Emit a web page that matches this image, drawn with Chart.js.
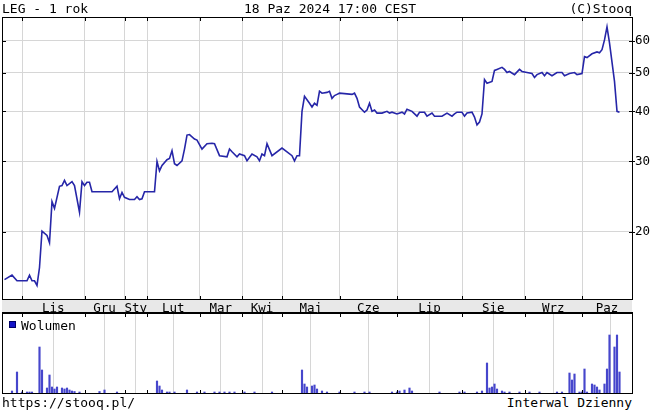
<!DOCTYPE html>
<html lang="pl">
<head>
<meta charset="utf-8">
<title>LEG - 1 rok</title>
<script src="https://cdn.jsdelivr.net/npm/chart.js@4.4.1/dist/chart.umd.min.js"></script>
<style>
  html, body { margin: 0; padding: 0; background: #fff; }
  body { position: relative; width: 655px; height: 416px; overflow: hidden;
         font-family: 'DejaVu Sans Mono', monospace; font-size: 13px; color: #000; }
  canvas { position: absolute; left: 0; }
  #priceChart { top: 0; }
  #volumeChart { top: 313px; }
  .lbl { position: absolute; line-height: 15px; white-space: pre; }
  #legendBox { position: absolute; left: 9px; top: 321px; width: 5px; height: 5px;
               background: #1414c8; border: 1px solid #000066; }
</style>
</head>
<body>
<canvas id="priceChart" width="655" height="313"></canvas>
<canvas id="volumeChart" width="655" height="81"></canvas>
<div class="lbl" style="left:2px; top:1px">LEG - 1 rok</div>
<div class="lbl" style="left:0; width:660px; text-align:center; top:1px">18 Paz 2024 17:00 CEST</div>
<div class="lbl" style="right:23px; top:1px">(C)Stooq</div>
<div id="legendBox"></div>
<div class="lbl" style="left:21px; top:318px">Wolumen</div>
<div class="lbl" style="left:2px; top:395px">https://stooq.pl/</div>
<div class="lbl" style="right:23px; top:395px">Interwal Dzienny</div>
<script>
// session index (0 = start of the 1-year window), month names and where each month starts
const monthNames = ['Lis', 'Gru', 'Sty', 'Lut', 'Mar', 'Kwi', 'Maj', 'Cze', 'Lip', 'Sie', 'Wrz', 'Paz'];
const monthStart = [8, 33, 49, 58, 79, 96, 112, 135, 158, 184, 209, 232];
const lastDay = 252;
const priceTicks = [20, 30, 40, 50, 60];

// closing prices (PLN)
const priceDay = [
    1, 4, 6, 8, 10, 11, 12, 13, 14, 15,
    16, 18, 19, 20, 21, 23, 24, 25, 26, 28,
    29, 31, 32, 33, 34, 35, 36, 44, 46, 47,
    48, 49, 51, 53, 54, 55, 56, 57, 61, 62,
    63, 64, 66, 67, 68, 69, 70, 72, 73, 74,
    75, 77, 78, 80, 82, 84, 85, 87, 90, 91,
    92, 94, 95, 97, 98, 100, 102, 103, 104, 105,
    106, 108, 112, 114, 116, 117, 118, 119, 120, 121,
    123, 124, 125, 126, 127, 128, 130, 131, 132, 133,
    134, 135, 140, 141, 142, 143, 145, 146, 147, 148,
    149, 150, 152, 154, 155, 156, 158, 160, 161, 162,
    164, 166, 167, 169, 170, 172, 173, 175, 176, 178,
    180, 181, 182, 184, 185, 186, 188, 189, 190, 191,
    192, 193, 194, 196, 197, 198, 200, 201, 202, 203,
    205, 207, 208, 210, 212, 213, 214, 216, 217, 218,
    220, 222, 224, 225, 227, 229, 230, 232, 233, 234,
    236, 238, 239, 240, 241, 242, 243, 245, 246, 247
];
const priceClose = [
    15.2, 15.6, 15.1, 15.1, 15.1, 15.6, 15.1, 15.1, 14.7, 16.3,
    20.1, 19.6, 18.8, 23.8, 22.9, 26.0, 26.1, 26.9, 26.1, 26.7,
    26.1, 22.4, 26.7, 26.1, 26.6, 26.6, 25.2, 25.2, 26.0, 24.2,
    25.1, 24.4, 24.1, 24.1, 24.5, 24.1, 24.2, 25.2, 25.2, 30.0,
    28.4, 29.3, 30.3, 30.5, 31.9, 29.6, 29.3, 30.1, 32.2, 34.9,
    35.0, 34.1, 33.9, 32.2, 33.2, 33.3, 33.2, 31.0, 30.8, 32.2,
    31.7, 30.8, 31.3, 31.0, 30.1, 31.3, 30.8, 30.1, 31.3, 31.0,
    33.2, 31.0, 32.4, 31.7, 31.0, 30.1, 31.0, 31.0, 40.0, 43.6,
    41.9, 41.0, 41.9, 41.4, 44.9, 44.4, 44.6, 44.9, 43.1, 43.8,
    44.1, 44.4, 44.1, 44.4, 43.1, 41.0, 39.8, 40.3, 41.9, 40.0,
    40.3, 39.6, 39.6, 40.0, 39.6, 39.8, 39.4, 39.8, 39.4, 40.5,
    40.0, 38.9, 39.8, 39.8, 38.9, 39.6, 38.9, 38.9, 38.9, 39.6,
    38.9, 39.4, 39.8, 39.8, 38.9, 39.6, 39.8, 38.7, 37.0, 37.6,
    39.4, 48.0, 47.0, 47.5, 50.6, 50.9, 51.5, 50.9, 50.0, 50.3,
    49.4, 50.9, 50.3, 50.0, 49.7, 48.6, 49.4, 50.0, 49.1, 50.0,
    49.1, 50.0, 50.0, 49.1, 49.7, 50.0, 49.4, 49.7, 54.8, 54.5,
    55.7, 56.3, 56.0, 57.0, 60.3, 65.0, 59.3, 47.5, 40.0, 39.8
];

// volume (thousand shares)
const volDay = [
    4, 6, 8, 10, 11, 12, 15, 16, 18, 19,
    20, 21, 22, 24, 25, 26, 27, 28, 29, 31,
    39, 41, 46, 62, 63, 64, 66, 67, 69, 74,
    78, 81, 85, 87, 89, 91, 93, 97, 101, 108,
    120, 121, 122, 124, 125, 126, 128, 130, 135, 141,
    145, 147, 156, 158, 159, 161, 163, 164, 175, 183,
    185, 190, 192, 194, 195, 196, 197, 198, 200, 201,
    203, 207, 211, 215, 222, 224, 227, 228, 229, 231,
    232, 233, 234, 236, 237, 238, 239, 241, 242, 243,
    245, 246, 247
];
const volume = [
    2, 21, 1, 1, 1, 1, 46, 23, 5, 18,
    6, 4, 6, 5, 4, 5, 3, 2, 1.5, 1,
    1.5, 3, 1, 12, 7, 3, 1, 1, 1, 3,
    1, 1, 1, 1, 1, 1, 1, 1, 1, 1,
    23, 9, 6, 7, 8, 4, 2, 1, 1, 1,
    1, 1, 1, 1, 2, 3, 5, 2, 1, 1,
    1, 1, 2, 30, 5, 6, 9, 4, 2, 1,
    1, 1, 1, 1, 1, 1, 20, 13, 19, 1,
    1, 24, 1, 9, 8, 6, 3, 9, 24, 58,
    46, 58, 21
];

const monthMid = monthStart.map((s, i) => (s + (i + 1 < monthStart.length ? monthStart[i + 1] : lastDay)) / 2);

Chart.defaults.font.family = "'DejaVu Sans Mono', monospace";
Chart.defaults.font.size = 12.5;
Chart.defaults.color = '#000';

const gridColor = '#d6d6d6';

// black frame, inward tick marks and the grey month band
const framePlugin = {
    id: 'frame',
    beforeDraw(chart, args, opts) {
        const { ctx, chartArea: a } = chart;
        if (opts.band) {
            ctx.save();
            ctx.fillStyle = '#e8e8e8';
            ctx.fillRect(a.left, a.bottom, a.right - a.left, chart.height - a.bottom);
            ctx.restore();
        }
    },
    afterDraw(chart, args, opts) {
        const { ctx, chartArea: a, scales } = chart;
        ctx.save();
        ctx.strokeStyle = '#000';
        ctx.lineWidth = 1;
        ctx.beginPath();
        monthStart.forEach(m => {
            const x = Math.round(scales.x.getPixelForValue(m)) + 0.5;
            ctx.moveTo(x, a.top); ctx.lineTo(x, a.top + 4);
            ctx.moveTo(x, a.bottom - 3); ctx.lineTo(x, a.bottom);
        });
        if (opts.yTicks) {
            opts.yTicks.forEach(t => {
                const y = Math.round(scales.y.getPixelForValue(t)) + 0.5;
                ctx.moveTo(a.left, y); ctx.lineTo(a.left + 4, y);
                ctx.moveTo(a.right - 3, y); ctx.lineTo(a.right + 3, y);
            });
        }
        ctx.stroke();
        ctx.strokeRect(a.left + 0.5, a.top + 0.5, a.right - a.left, a.bottom - a.top);
        if (opts.band) {
            ctx.beginPath();
            ctx.moveTo(a.left, chart.height - 0.5);
            ctx.lineTo(a.right + 1, chart.height - 0.5);
            ctx.stroke();
        }
        ctx.restore();
    }
};

const monthGridAxis = {
    type: 'linear',
    min: 0,
    max: lastDay,
    afterBuildTicks: axis => { axis.ticks = monthStart.map(v => ({ value: v })); },
    afterFit: scale => { scale.height = 0; },
    ticks: { display: false },
    grid: { color: gridColor, drawTicks: false },
    border: { display: false }
};

new Chart(document.getElementById('priceChart'), {
    type: 'line',
    data: {
        datasets: [{
            label: 'LEG',
            data: priceDay.map((d, i) => ({ x: d, y: priceClose[i] })),
            borderColor: '#2626a8',
            borderWidth: 1.6,
            pointRadius: 0,
            tension: 0,
            fill: false
        }]
    },
    options: {
        responsive: false,
        animation: false,
        events: [],
        layout: { padding: { top: 17, left: 2, right: 0, bottom: 0 } },
        scales: {
            x: monthGridAxis,
            months: {
                type: 'linear',
                position: 'bottom',
                weight: 1,
                min: 0,
                max: lastDay,
                afterBuildTicks: axis => { axis.ticks = monthMid.map(v => ({ value: v })); },
                afterFit: scale => { scale.height = 14; },
                ticks: {
                    autoSkip: false,
                    maxRotation: 0,
                    padding: 2,
                    callback: (value, index) => monthNames[index]
                },
                grid: { display: false, drawTicks: false },
                border: { display: false }
            },
            y: {
                type: 'logarithmic',
                position: 'right',
                min: 13.6,
                max: 68.8,
                afterBuildTicks: axis => { axis.ticks = priceTicks.map(v => ({ value: v })); },
                afterFit: scale => { scale.width = 23; },
                ticks: {
                    padding: 3,
                    callback: value => String(value)
                },
                grid: { color: gridColor, drawTicks: false },
                border: { display: false }
            }
        },
        plugins: {
            legend: { display: false },
            tooltip: { enabled: false },
            frame: { band: true, yTicks: priceTicks }
        }
    },
    plugins: [framePlugin]
});

new Chart(document.getElementById('volumeChart'), {
    type: 'bar',
    data: {
        datasets: [{
            label: 'Wolumen',
            data: volDay.map((d, i) => ({ x: d, y: volume[i] })),
            backgroundColor: '#4646cc',
            barThickness: 1.5
        }]
    },
    options: {
        responsive: false,
        animation: false,
        events: [],
        layout: { padding: { top: 0, left: 2, right: 23, bottom: 1 } },
        scales: {
            x: Object.assign({}, monthGridAxis, { offset: false }),
            y: { display: false, min: 0, max: 80 }
        },
        plugins: {
            legend: { display: false },
            tooltip: { enabled: false },
            frame: { band: false }
        }
    },
    plugins: [framePlugin]
});
</script>
</body>
</html>
